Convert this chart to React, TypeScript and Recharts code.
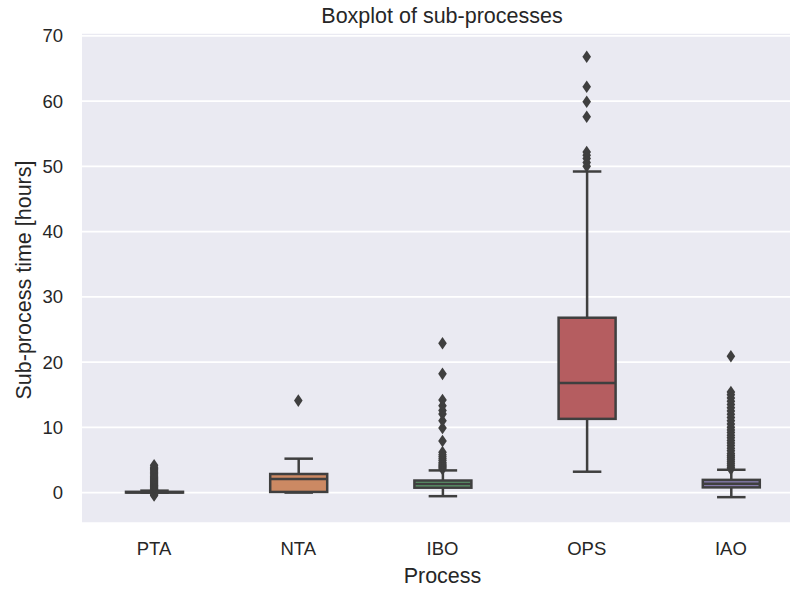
import React from 'react';
import { ComposedChart, Bar, Scatter, XAxis, YAxis, CartesianGrid } from 'recharts';

// Box statistics per sub-process (hours)
const categories = ['PTA', 'NTA', 'IBO', 'OPS', 'IAO'];
const whiskerLow = [0, 0, -0.55, 3.2, -0.7];
const quartile1 = [0, 0.1, 0.75, 11.3, 0.8];
const medians = [0.05, 2.1, 1.3, 16.8, 1.35];
const quartile3 = [0.12, 2.85, 1.85, 26.8, 1.95];
const whiskerHigh = [0.3, 5.2, 3.4, 49.2, 3.5];
const boxFills = ['#5975a4', '#cc8963', '#5f9e6e', '#b55d60', '#857aab'];

// Outliers beyond the whiskers
const ptaFliers = [-0.45, -0.3, 0.4, 0.5, 0.6, 0.75, 0.9, 1.0, 1.1, 1.25, 1.4, 1.55, 1.7, 1.85, 2.0, 2.15, 2.3, 2.5, 2.7, 2.9, 3.1, 3.3, 3.5, 3.7, 3.9, 4.2];
const ntaFliers = [14.1];
const iboFliers = [3.6, 3.8, 4.0, 4.2, 4.4, 4.6, 4.9, 5.2, 5.5, 5.8, 6.2, 7.9, 9.9, 11.0, 12.05, 12.6, 13.3, 14.2, 18.2, 22.9];
const opsFliers = [50.0, 50.6, 51.2, 51.7, 52.2, 57.6, 59.9, 62.2, 66.8];
const iaoFliers = [3.6, 3.9, 4.2, 4.5, 4.8, 5.1, 5.4, 5.7, 6.0, 6.4, 6.8, 7.2, 7.6, 8.0, 8.4, 8.8, 9.2, 9.6, 10.0, 10.5, 11.0, 11.5, 12.0, 12.5, 13.0, 13.5, 14.0, 14.5, 15.0, 15.4, 20.9];

const yTicks = [0, 10, 20, 30, 40, 50, 60, 70];
const yDomain = [-4.66, 70.44];

const LINE = '#3f3f3f';
const TEXT = '#262626';
const FONT = '"Liberation Sans", Arial, sans-serif';
const TICK_SIZE = 18.5;
const LABEL_SIZE = 21.5;

const boxRows = categories.map((name, i) => ({
  name,
  range: [whiskerLow[i], whiskerHigh[i]],
  lo: whiskerLow[i],
  q1: quartile1[i],
  med: medians[i],
  q3: quartile3[i],
  hi: whiskerHigh[i],
  fill: boxFills[i],
}));

const flierGroups = [ptaFliers, ntaFliers, iboFliers, opsFliers, iaoFliers];
const fliers = flierGroups.flatMap((vals, i) => vals.map((v) => ({ name: categories[i], v })));

// Draws a whole box-and-whisker glyph from the whisker range bar that Recharts lays out.
function BoxShape(props: any) {
  const { x, y, width, height, payload } = props;
  const top = Math.min(y, y + height);
  const bottom = Math.max(y, y + height);
  const { lo, hi, q1, med, q3, fill } = payload;
  const toY = (v: number) => bottom - ((v - lo) / (hi - lo)) * (bottom - top);
  const cx = x + width / 2;
  const capHalf = width / 4;
  const yQ1 = toY(q1);
  const yQ3 = toY(q3);
  const yMed = toY(med);
  const yLo = toY(lo);
  const yHi = toY(hi);
  const sw = 2.5;
  return (
    <g>
      <line x1={cx} x2={cx} y1={yQ3} y2={yHi} stroke={LINE} strokeWidth={sw} />
      <line x1={cx} x2={cx} y1={yQ1} y2={yLo} stroke={LINE} strokeWidth={sw} />
      <line x1={cx - capHalf} x2={cx + capHalf} y1={yHi} y2={yHi} stroke={LINE} strokeWidth={sw} />
      <line x1={cx - capHalf} x2={cx + capHalf} y1={yLo} y2={yLo} stroke={LINE} strokeWidth={sw} />
      <rect x={x} y={yQ3} width={width} height={Math.max(yQ1 - yQ3, 0.01)} fill={fill} stroke={LINE} strokeWidth={sw} />
      <line x1={x} x2={x + width} y1={yMed} y2={yMed} stroke={LINE} strokeWidth={sw} />
    </g>
  );
}

function Diamond(props: any) {
  const { cx, cy } = props;
  if (cx == null || cy == null) return null;
  const w = 4.3;
  const h = 6.3;
  return <path d={`M${cx},${cy - h}L${cx + w},${cy}L${cx},${cy + h}L${cx - w},${cy}Z`} fill={LINE} />;
}

function YLabel(props: any) {
  const vb = props.viewBox || { x: 0, y: 0, width: 0, height: 0 };
  const lx = vb.x + 31;
  const ly = vb.y + vb.height / 2 + 2;
  return (
    <text x={lx} y={ly} transform={`rotate(-90, ${lx}, ${ly})`} textAnchor="middle" fill={TEXT} fontSize={LABEL_SIZE} fontFamily={FONT}>
      Sub-process time [hours]
    </text>
  );
}

export default function App() {
  return (
    <div style={{ position: 'fixed', left: 0, top: 0, width: 790, height: 592, overflow: 'hidden', background: '#ffffff', fontFamily: FONT }}>
      <div style={{ position: 'absolute', left: 0, top: 6, width: 884, textAlign: 'center', fontSize: LABEL_SIZE, lineHeight: '21px', color: TEXT, fontFamily: FONT }}>
        Boxplot of sub-processes
      </div>
      <ComposedChart
        width={803}
        height={592}
        data={boxRows}
        margin={{ top: 33, right: 0, bottom: 0, left: 0 }}
        style={{ fontFamily: FONT }}
      >
        <CartesianGrid vertical={false} stroke="#ffffff" strokeWidth={1.6} fill="#eaeaf2" fillOpacity={1} />
        <XAxis
          dataKey="name"
          type="category"
          allowDuplicatedCategory={false}
          axisLine={false}
          tickLine={false}
          tickSize={6}
          tickMargin={13}
          height={69}
          tick={{ fill: TEXT, fontSize: TICK_SIZE, fontFamily: FONT }}
          label={{ value: 'Process', position: 'insideBottom', offset: 9, fill: TEXT, fontSize: LABEL_SIZE, fontFamily: FONT }}
        />
        <YAxis
          type="number"
          domain={yDomain}
          ticks={yTicks}
          allowDataOverflow
          axisLine={false}
          tickLine={false}
          tickSize={6}
          tickMargin={13}
          width={82}
          tick={{ fill: TEXT, fontSize: TICK_SIZE, fontFamily: FONT }}
          label={{ content: YLabel }}
        />
        <Bar dataKey="range" barSize={57} shape={BoxShape} isAnimationActive={false} />
        <Scatter data={fliers} dataKey="v" shape={Diamond} isAnimationActive={false} />
      </ComposedChart>
    </div>
  );
}
